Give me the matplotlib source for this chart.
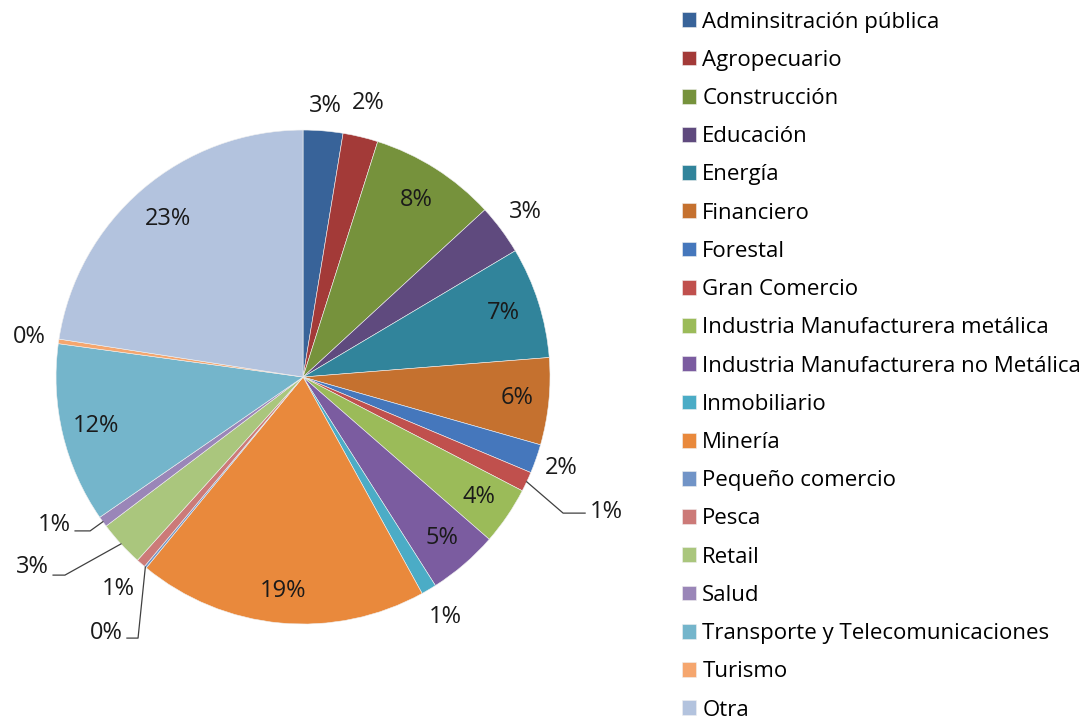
import numpy as np
import matplotlib
matplotlib.use("Agg")
import matplotlib.pyplot as plt

plt.rcParams['font.family'] = ['Open Sans', 'DejaVu Sans']

# sector shares (%)
sectors = ['Adminsitración pública', 'Agropecuario', 'Construcción', 'Educación',
           'Energía', 'Financiero', 'Forestal', 'Gran Comercio',
           'Industria Manufacturera metálica', 'Industria Manufacturera no Metálica',
           'Inmobiliario', 'Minería', 'Pequeño comercio', 'Pesca', 'Retail', 'Salud',
           'Transporte y Telecomunicaciones', 'Turismo', 'Otra']
shares = [2.6, 2.3, 8.3, 3.3, 7.3, 5.7, 1.9, 1.3, 3.8, 4.6,
          1.0, 19.0, 0.15, 0.6, 3.0, 0.7, 11.8, 0.3, 22.6]
colors = ['#386399', '#A33A38', '#76923C', '#5F4A7E', '#31849B', '#C5712F',
          '#4577BC', '#C0504D', '#9BBB59', '#7B5CA0', '#4BACC6', '#E9893C',
          '#7194C7', '#CC7A78', '#AAC67D', '#9A86B8', '#74B5CB', '#F5A66E', '#B3C3DE']

# label placement: radius factor for plain labels, text point for labels with leader lines
label_radius = {0: 1.10, 1: 1.14, 2: 0.85, 3: 1.12, 4: 0.85, 5: 0.87, 6: 1.11,
                8: 0.86, 9: 0.86, 10: 1.13, 11: 0.87, 13: 1.14, 16: 0.86,
                17: 1.12, 18: 0.84}
leader = {7: ((1.053, -0.551), (1.142, -0.551), (1.16, -0.545), 'left'),
          15: ((-0.862, -0.623), (-0.923, -0.623), (-0.94, -0.60), 'right'),
          14: ((-0.964, -0.802), (-1.012, -0.802), (-1.03, -0.77), 'right'),
          12: ((-0.668, -1.057), (-0.713, -1.057), (-0.73, -1.035), 'right')}

fig = plt.figure(figsize=(10.84, 7.2), dpi=100)
ax = fig.add_axes([0.0517, 0.1333, 0.4557, 0.6861])

wedges, _ = ax.pie(shares, colors=colors, startangle=90, counterclock=False,
                   radius=1, wedgeprops=dict(linewidth=0.4, edgecolor='#f0f0f0'))
ax.set_xlim(-1, 1)
ax.set_ylim(-1, 1)
ax.set_aspect('equal')
ax.axis('off')

total = sum(shares)
for i, w in enumerate(wedges):
    pct = '%d%%' % round(shares[i] / total * 100)
    mid = np.deg2rad((w.theta1 + w.theta2) / 2)
    if i in leader:
        elbow, end, txt, ha = leader[i]
        edge = (np.cos(mid), np.sin(mid))
        ax.plot([edge[0], elbow[0], end[0]], [edge[1], elbow[1], end[1]],
                color='#404040', lw=0.9, clip_on=False)
        ax.text(txt[0], txt[1], pct, ha=ha, va='center', fontsize=17, color='#1a1a1a')
    else:
        r = label_radius[i]
        ax.text(r * np.cos(mid), r * np.sin(mid), pct, ha='center', va='center',
                fontsize=17, color='#1a1a1a')

fig.legend(wedges, sectors, loc='upper left', bbox_to_anchor=(0.629, 0.984),
           frameon=False, fontsize=16, handlelength=0.65, handleheight=0.65,
           handletextpad=0.27, labelspacing=0.775, borderpad=0, borderaxespad=0)

fig.savefig('out.png', dpi=100, facecolor='white')
